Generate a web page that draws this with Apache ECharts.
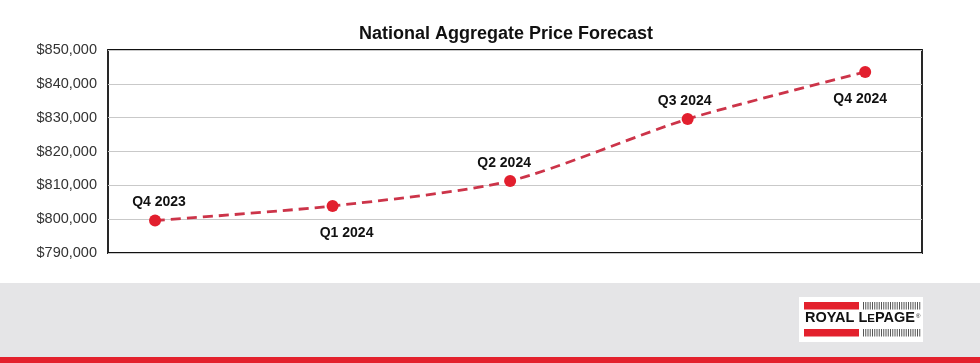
<!DOCTYPE html>
<html>
<head>
<meta charset="utf-8">
<script src="https://cdn.jsdelivr.net/npm/echarts@6/dist/echarts.min.js"></script>
<style>
html,body{margin:0;padding:0;background:#fff;}
#chart{width:980px;height:363px;}
</style>
</head>
<body>
<div id="chart"></div>
<script>
const categories = ['Q4 2023', 'Q1 2024', 'Q2 2024', 'Q3 2024', 'Q4 2024'];
const prices = [799600, 803900, 811300, 829600, 843500];
const labelSides = ['top', 'bottom', 'top', 'top', 'bottom'];
const labelShiftX = [4, 14, -6, -3, -5];
const yTicks = [790000, 800000, 810000, 820000, 830000, 840000, 850000];
const titleText = 'National Aggregate Price Forecast';

const chart = echarts.init(document.getElementById('chart'), null, {renderer: 'canvas'});

const barcode = [];
for (let i = 0; i < 26; i++) {
  barcode.push({type: 'rect', shape: {x: 863 + i * 2.25, y: 302, width: 1, height: 7.5}, style: {fill: '#555'}, z: 3, silent: true});
  barcode.push({type: 'rect', shape: {x: 863 + i * 2.25, y: 329, width: 1, height: 7.5}, style: {fill: '#555'}, z: 3, silent: true});
}

const option = {
  backgroundColor: '#ffffff',
  animation: false,
  title: {
    text: titleText,
    left: 354,
    top: 20,
    textStyle: {fontFamily: 'Liberation Sans', fontWeight: 'bold', fontSize: 18, color: '#111'}
  },
  grid: {
    left: 108, right: 58, top: 50, height: 203,
    show: true, borderColor: '#111', borderWidth: 1.8, backgroundColor: 'transparent'
  },
  xAxis: {
    type: 'value', min: -0.265, max: 4.32,
    axisLine: {show: false}, axisTick: {show: false}, axisLabel: {show: false}, splitLine: {show: false}
  },
  yAxis: {
    type: 'value', min: yTicks[0], max: yTicks[yTicks.length - 1], interval: 10000,
    axisLine: {show: false}, axisTick: {show: false},
    axisLabel: {
      margin: 11, fontFamily: 'Liberation Sans', fontSize: 14.5, color: '#333',
      formatter: v => '$' + v.toString().replace(/\B(?=(\d{3})+(?!\d))/g, ',')
    },
    splitLine: {lineStyle: {color: '#c9c9c9', width: 1}}
  },
  series: [{
    type: 'line',
    smooth: 0.25,
    symbol: 'circle',
    symbolSize: 12,
    z: 5,
    itemStyle: {color: '#e21f2e'},
    lineStyle: {color: '#cc3449', width: 2.8, type: [10, 6]},
    data: prices.map((v, i) => ({
      value: [i, v],
      label: {
        show: true, position: labelSides[i], distance: labelSides[i] === 'top' ? 5 : 14,
        offset: [labelShiftX[i], 0],
        formatter: categories[i],
        fontFamily: 'Liberation Sans', fontWeight: 'bold', fontSize: 14, color: '#111'
      }
    }))
  }],
  graphic: [
    {type: 'rect', shape: {x: 0, y: 283, width: 980, height: 74}, style: {fill: '#e5e5e7'}, z: 1, silent: true},
    {type: 'rect', shape: {x: 0, y: 357, width: 980, height: 6}, style: {fill: '#e3212d'}, z: 1, silent: true},
    {type: 'rect', shape: {x: 799, y: 297, width: 124, height: 45}, style: {fill: '#ffffff'}, z: 2, silent: true},
    {type: 'rect', shape: {x: 804, y: 302, width: 55, height: 7.5}, style: {fill: '#e3212d'}, z: 3, silent: true},
    {type: 'rect', shape: {x: 804, y: 329, width: 55, height: 7.5}, style: {fill: '#e3212d'}, z: 3, silent: true},
    ...barcode,
    {type: 'text', x: 805, y: 325, z: 3, silent: true,
     style: {
       text: '{a|ROYAL L}{b|E}{a|PAGE}',
       verticalAlign: 'bottom', align: 'left',
       rich: {
         a: {fontFamily: 'Liberation Sans', fontWeight: 'bold', fontSize: 14.5, fill: '#111', verticalAlign: 'bottom'},
         b: {fontFamily: 'Liberation Sans', fontWeight: 'bold', fontSize: 11.5, fill: '#111', verticalAlign: 'bottom'}
       }
     }},
    {type: 'text', x: 916, y: 316, z: 3, silent: true,
     style: {text: '®', fontFamily: 'Liberation Sans', fontSize: 6, fill: '#111', verticalAlign: 'middle'}}
  ]
};
chart.setOption(option);
</script>
</body>
</html>
